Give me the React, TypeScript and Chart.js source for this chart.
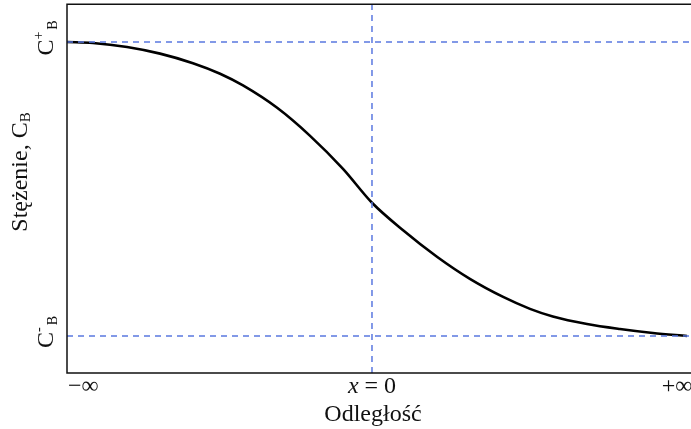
import React, { useEffect, useRef } from "react";
import { Chart, registerables } from "chart.js";

Chart.register(...registerables);

// Curve: normalized distance (−1 = −∞ side, 1 = +∞ side) vs normalized concentration (0 = C-B, 1 = C+B)
const curveX = [-1, -0.915, -0.803, -0.695, -0.587, -0.498, -0.423, -0.311, -0.203, -0.095, 0, 0.102, 0.213, 0.321, 0.43, 0.518, 0.593, 0.705, 0.813, 0.921, 1.033];
const curveY = [1.0, 0.9966, 0.9827, 0.9602, 0.9276, 0.8918, 0.852, 0.7759, 0.6806, 0.5684, 0.4531, 0.3595, 0.2694, 0.1942, 0.1327, 0.0922, 0.0663, 0.0408, 0.0238, 0.0102, 0.0];

const X_MIN = -1;
const X_MAX = 1.046;
const Y_MIN = -0.126;
const Y_MAX = 1.129;

const refLevels = [1, 0]; // C+B and C-B
const refX = [0]; // x = 0

const xTickValues = [-1, 0, 1];
const xTickLabels = ["−∞", "x = 0", "+∞"];
const yTickValues = [1, 0];
const yTickBase = ["C", "C"];
const yTickSup = ["+", "-"];
const yTickSub = ["B", "B"];

const xTitle = "Odległość";
const yTitleMain = "Stężenie, C";
const yTitleSub = "B";

const FONT = "'Liberation Serif', 'Times New Roman', serif";
const DASH_COLOR = "#5a78e0";

type Part = { text: string; size: number; dy: number; italic?: boolean; gap?: number };

function drawRotated(ctx: CanvasRenderingContext2D, parts: Part[], baseX: number, centerY: number) {
  let total = 0;
  const widths: number[] = [];
  parts.forEach((p) => {
    ctx.font = `${p.italic ? "italic " : ""}${p.size}px ${FONT}`;
    const w = ctx.measureText(p.text).width;
    widths.push(w);
    total += w + (p.gap || 0);
  });
  ctx.save();
  ctx.translate(baseX, centerY);
  ctx.rotate(-Math.PI / 2);
  ctx.textBaseline = "alphabetic";
  ctx.textAlign = "left";
  let x = -total / 2;
  parts.forEach((p, i) => {
    x += p.gap || 0;
    ctx.font = `${p.italic ? "italic " : ""}${p.size}px ${FONT}`;
    ctx.fillText(p.text, x, p.dy);
    x += widths[i];
  });
  ctx.restore();
}

const labelsPlugin = {
  id: "labelsPlugin",
  afterDraw(chart: any) {
    const ctx: CanvasRenderingContext2D = chart.ctx;
    const area = chart.chartArea;
    const xs = chart.scales.x;
    const ys = chart.scales.y;
    ctx.save();
    // frame (left, top, bottom)
    ctx.strokeStyle = "#111";
    ctx.lineWidth = 1.5;
    ctx.beginPath();
    ctx.moveTo(chart.width + 2, area.top + 0.3);
    ctx.lineTo(area.left, area.top + 0.3);
    ctx.lineTo(area.left, area.bottom);
    ctx.lineTo(chart.width + 2, area.bottom);
    ctx.stroke();

    ctx.fillStyle = "#111";
    // x tick labels
    ctx.textBaseline = "alphabetic";
    const tickBaseline = area.bottom + 20;
    xTickValues.forEach((v, i) => {
      const label = xTickLabels[i];
      const px = xs.getPixelForValue(v);
      if (label.startsWith("x")) {
        ctx.font = `italic 24px ${FONT}`;
        const w1 = ctx.measureText("x").width;
        ctx.font = `24px ${FONT}`;
        const rest = label.slice(1);
        const w2 = ctx.measureText(rest).width;
        const start = px - (w1 + w2) / 2;
        ctx.textAlign = "left";
        ctx.font = `italic 24px ${FONT}`;
        ctx.fillText("x", start, tickBaseline);
        ctx.font = `24px ${FONT}`;
        ctx.fillText(rest, start + w1, tickBaseline);
      } else {
        ctx.font = `24px ${FONT}`;
        const w = ctx.measureText(label).width;
        let start = px - w / 2;
        if (i === 0) start = area.left + 1;
        ctx.textAlign = "left";
        ctx.fillText(label, start, tickBaseline);
      }
    });
    // x title
    ctx.font = `24px ${FONT}`;
    ctx.textAlign = "center";
    ctx.fillText(xTitle, xs.getPixelForValue(0) + 1, area.bottom + 48);

    // y tick labels
    yTickValues.forEach((v, i) => {
      const py = ys.getPixelForValue(v);
      drawRotated(
        ctx,
        [
          { text: yTickBase[i], size: 24, dy: 0 },
          { text: yTickSup[i], size: 14, dy: -10 },
          { text: yTickSub[i], size: 14, dy: 4, gap: 2 },
        ],
        53,
        py - 4
      );
    });
    // y title
    drawRotated(
      ctx,
      [
        { text: yTitleMain, size: 24, dy: 0 },
        { text: yTitleSub, size: 15, dy: 3 },
      ],
      27,
      172
    );
    ctx.restore();
  },
};

export default function App() {
  const ref = useRef<HTMLCanvasElement | null>(null);
  useEffect(() => {
    if (!ref.current) return;
    const curve = curveX.map((x, i) => ({ x, y: curveY[i] }));
    const hLines = refLevels.map((lv) => ({
      data: [
        { x: X_MIN, y: lv },
        { x: X_MAX, y: lv },
      ],
      borderColor: DASH_COLOR,
      borderWidth: 1.5,
      borderDash: [6, 5],
      pointRadius: 0,
      showLine: true,
      fill: false,
    }));
    const vLines = refX.map((xv) => ({
      data: [
        { x: xv, y: Y_MIN },
        { x: xv, y: Y_MAX },
      ],
      borderColor: DASH_COLOR,
      borderWidth: 1.5,
      borderDash: [6, 5],
      pointRadius: 0,
      showLine: true,
      fill: false,
    }));
    const chart = new Chart(ref.current, {
      type: "scatter",
      data: {
        datasets: [
          ...hLines,
          ...vLines,
          {
            data: curve,
            borderColor: "#000",
            borderWidth: 2.6,
            pointRadius: 0,
            showLine: true,
            fill: false,
            cubicInterpolationMode: "monotone",
          } as any,
        ],
      },
      options: {
        animation: false,
        responsive: false,
        devicePixelRatio: 1,
        layout: { padding: { top: 4, right: 0, left: 0, bottom: 0 } },
        plugins: { legend: { display: false }, tooltip: { enabled: false } },
        scales: {
          x: {
            type: "linear",
            min: X_MIN,
            max: X_MAX,
            grid: { display: false },
            border: { display: false },
            ticks: { display: false },
            afterFit: (s: any) => {
              s.height = 56;
            },
          },
          y: {
            type: "linear",
            min: Y_MIN,
            max: Y_MAX,
            grid: { display: false },
            border: { display: false },
            ticks: { display: false },
            afterFit: (s: any) => {
              s.width = 67;
            },
          },
        },
      } as any,
      plugins: [labelsPlugin],
    });
    return () => chart.destroy();
  }, []);
  return (
    <div style={{ position: "fixed", left: 0, top: 0, width: 691, height: 429, background: "#fff" }}>
      <canvas ref={ref} width={691} height={429} style={{ display: "block" }} />
    </div>
  );
}
